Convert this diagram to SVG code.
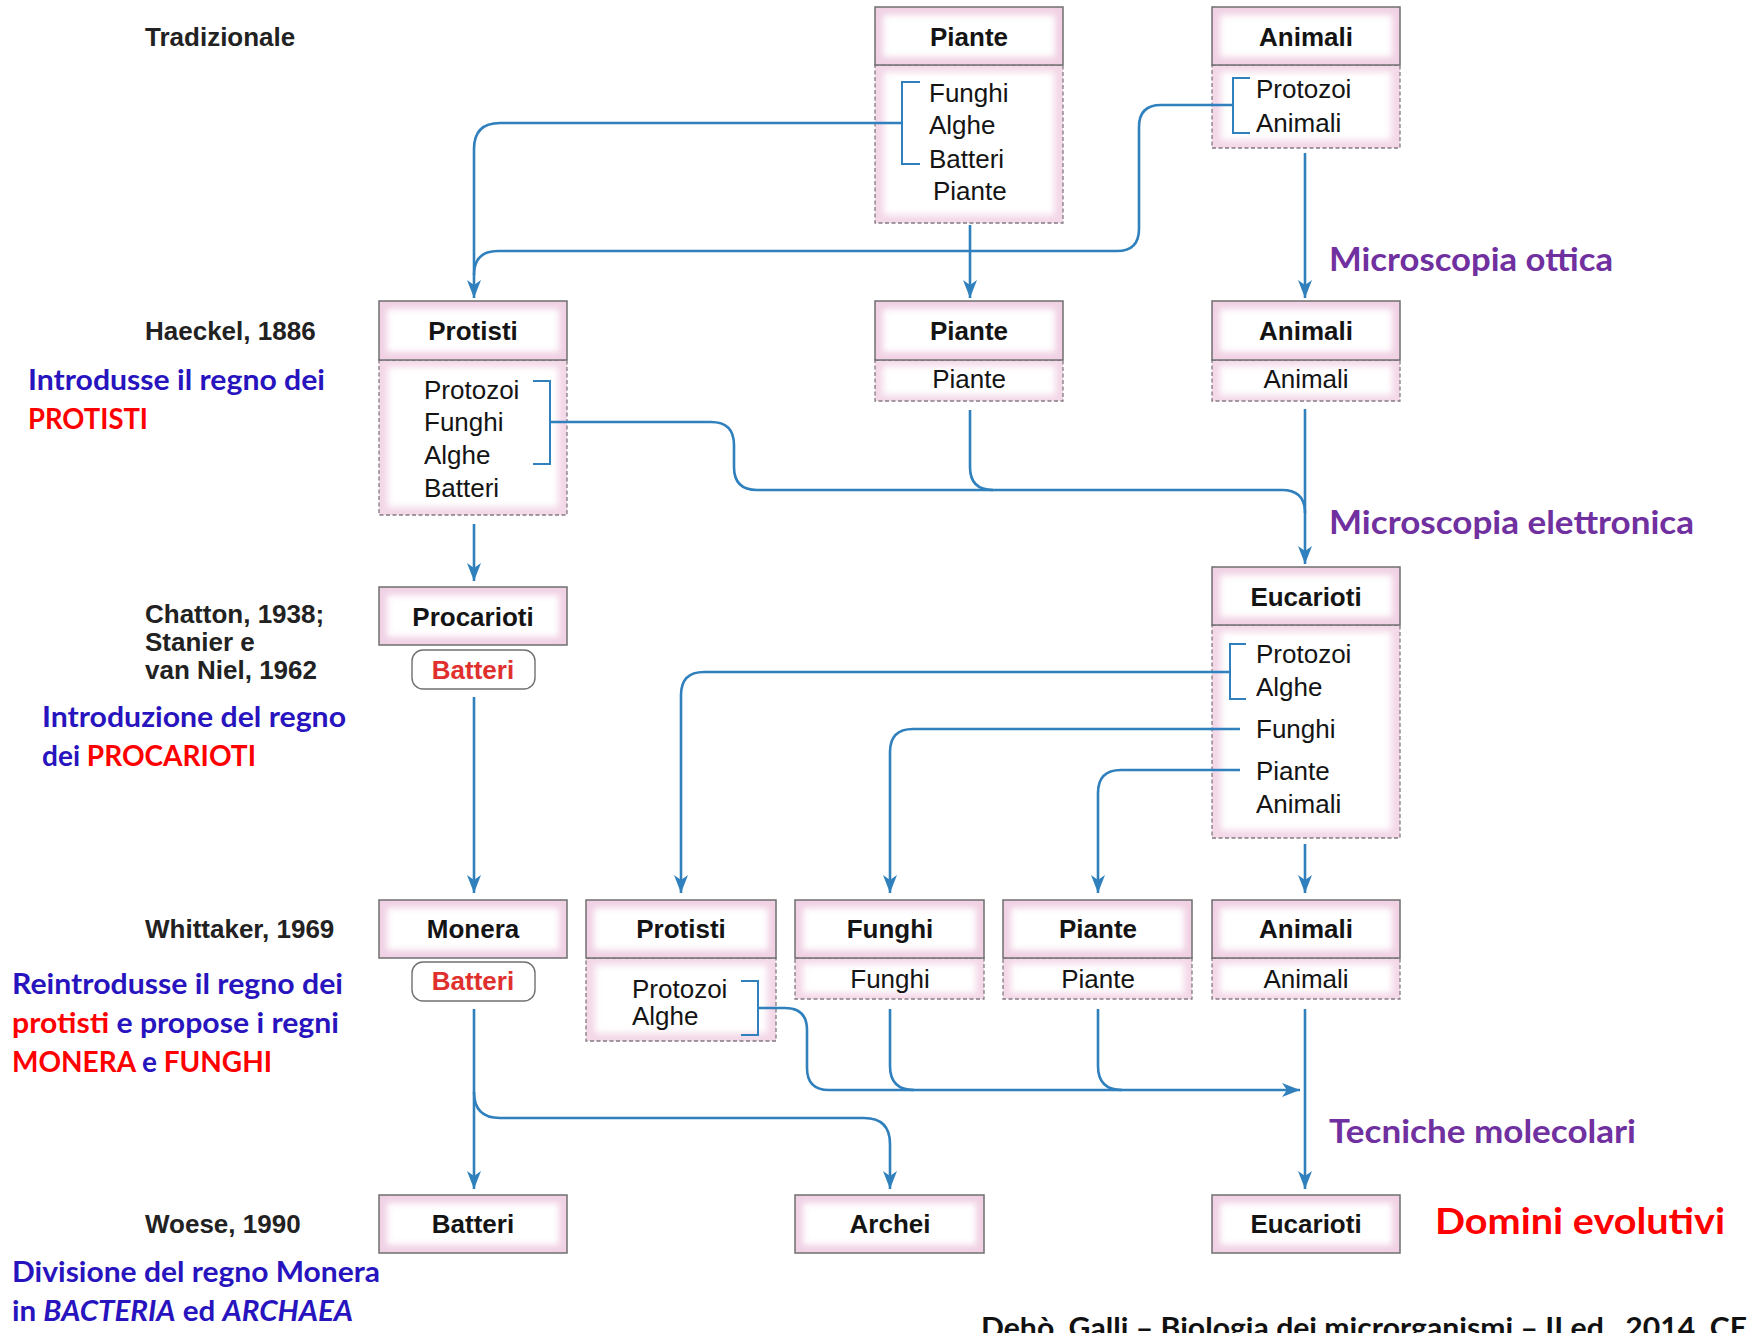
<svg xmlns="http://www.w3.org/2000/svg" width="1748" height="1333" viewBox="0 0 1748 1333">
<style>
.hdr{fill:#f0d1e4;stroke:#6f6f6f;stroke-width:1.5}
.bdy{fill:#f3d8e8;stroke:#857a82;stroke-width:1.3;stroke-dasharray:4 2.5}
.in{fill:#fff;filter:url(#soft)}
.pill{fill:#fff;stroke:#707070;stroke-width:1.4}
.h{font-family:"Liberation Sans",Arial,sans-serif;font-weight:bold;font-size:26px;text-anchor:middle;fill:#141414}
.t{font-family:"Liberation Sans",Arial,sans-serif;font-size:26px;fill:#141414}
.tc{font-family:"Liberation Sans",Arial,sans-serif;font-size:26px;fill:#141414;text-anchor:middle}
.rb{font-family:"Liberation Sans",Arial,sans-serif;font-weight:bold;font-size:26px;text-anchor:middle;fill:#e0302e}
.lbl{font-family:"Liberation Sans",Arial,sans-serif;font-weight:bold;font-size:26px;fill:#222}
.bl{font-family:Lato,"Open Sans",sans-serif;font-weight:bold;font-size:29px;fill:#2814be}
.red{fill:#ff0000}
.it{font-style:italic}
.pu{font-family:Lato,"Open Sans",sans-serif;font-weight:bold;font-size:32px;fill:#7030a0}
.dom{font-family:Lato,"Open Sans",sans-serif;font-weight:bold;font-size:37px;fill:#ff0000}
.cit{font-family:Lato,"Open Sans",sans-serif;font-weight:bold;font-size:29px;fill:#111}
.conn{fill:none;stroke:#2f80bd;stroke-width:2.6}
.br{fill:none;stroke:#2f80bd;stroke-width:2}
</style>
<defs>
<filter id="soft" x="-10%" y="-30%" width="120%" height="160%"><feGaussianBlur stdDeviation="3"/></filter>
<marker id="ah" markerUnits="userSpaceOnUse" markerWidth="20" markerHeight="16" refX="18" refY="7" orient="auto">
<path d="M0,0 L18,7 L0,14 L5,7 z" fill="#2f80bd"/>
</marker>
</defs>
<rect width="1748" height="1333" fill="#fff"/>

<!-- left labels -->
<g id="labels">
<text class="lbl" x="145" y="46">Tradizionale</text>
<text class="lbl" x="145" y="340">Haeckel, 1886</text>
<text class="lbl" x="145" y="623">Chatton, 1938;</text>
<text class="lbl" x="145" y="651">Stanier e</text>
<text class="lbl" x="145" y="679">van Niel, 1962</text>
<text class="lbl" x="145" y="938">Whittaker, 1969</text>
<text class="lbl" x="145" y="1233">Woese, 1990</text>
</g>

<g id="notes">
<text class="bl" x="28" y="390" textLength="297" lengthAdjust="spacingAndGlyphs">Introdusse il regno dei</text>
<text class="bl red" x="28" y="429" textLength="120" lengthAdjust="spacingAndGlyphs">PROTISTI</text>
<text class="bl" x="42" y="727" textLength="304" lengthAdjust="spacingAndGlyphs">Introduzione del regno</text>
<text class="bl" x="42" y="766" textLength="214" lengthAdjust="spacingAndGlyphs">dei <tspan class="red">PROCARIOTI</tspan></text>
<text class="bl" x="12" y="994" textLength="331" lengthAdjust="spacingAndGlyphs">Reintrodusse il regno dei</text>
<text class="bl" x="12" y="1033" textLength="327" lengthAdjust="spacingAndGlyphs"><tspan class="red">protisti</tspan> e propose i regni</text>
<text class="bl" x="12" y="1072" textLength="260" lengthAdjust="spacingAndGlyphs"><tspan class="red">MONERA</tspan> e <tspan class="red">FUNGHI</tspan></text>
<text class="bl" x="12" y="1282" textLength="368" lengthAdjust="spacingAndGlyphs">Divisione del regno Monera</text>
<text class="bl" x="12" y="1321" textLength="341" lengthAdjust="spacingAndGlyphs">in <tspan class="it">BACTERIA</tspan> ed <tspan class="it">ARCHAEA</tspan></text>
<text class="pu" x="1329" y="271" textLength="284" lengthAdjust="spacingAndGlyphs">Microscopia ottica</text>
<text class="pu" x="1329" y="534" textLength="365" lengthAdjust="spacingAndGlyphs">Microscopia elettronica</text>
<text class="pu" x="1329" y="1143" textLength="307" lengthAdjust="spacingAndGlyphs">Tecniche molecolari</text>
<text class="dom" x="1435" y="1234" textLength="290" lengthAdjust="spacingAndGlyphs">Domini evolutivi</text>
<text class="cit" x="981" y="1338" textLength="787" lengthAdjust="spacingAndGlyphs">Dehò, Galli – Biologia dei microrganismi – II ed., 2014, CEA</text>
</g>

<!-- Tradizionale row -->
<g id="trad-piante">
<rect class="bdy" x="875" y="65" width="188" height="158"/>
<rect class="in" x="884" y="72" width="170" height="143"/>
<rect class="hdr" x="875" y="7" width="188" height="58"/>
<rect class="in" x="883" y="15" width="172" height="42"/>
<text class="h" x="969" y="46">Piante</text>
<text class="t" x="929" y="102">Funghi</text>
<text class="t" x="929" y="134">Alghe</text>
<text class="t" x="929" y="168">Batteri</text>
<text class="t" x="933" y="200">Piante</text>
<path class="br" d="M920,82 H902 V164 H920"/>
</g>
<g id="trad-animali">
<rect class="bdy" x="1212" y="65" width="188" height="83"/>
<rect class="in" x="1221" y="72" width="170" height="68"/>
<rect class="hdr" x="1212" y="7" width="188" height="58"/>
<rect class="in" x="1220" y="15" width="172" height="42"/>
<text class="h" x="1306" y="46">Animali</text>
<text class="t" x="1256" y="98">Protozoi</text>
<text class="t" x="1256" y="132">Animali</text>
<path class="br" d="M1250,78 H1233 V133 H1250"/>
</g>

<!-- Haeckel row -->
<g id="haeckel-protisti">
<rect class="bdy" x="379" y="360" width="188" height="155"/>
<rect class="in" x="388" y="367" width="170" height="140"/>
<rect class="hdr" x="379" y="301" width="188" height="59"/>
<rect class="in" x="387" y="309" width="172" height="43"/>
<text class="h" x="473" y="340">Protisti</text>
<text class="t" x="424" y="399">Protozoi</text>
<text class="t" x="424" y="431">Funghi</text>
<text class="t" x="424" y="464">Alghe</text>
<text class="t" x="424" y="497">Batteri</text>
<path class="br" d="M533,381 H550 V464 H533"/>
</g>
<g id="haeckel-piante">
<rect class="bdy" x="875" y="360" width="188" height="41"/>
<rect class="in" x="883" y="366" width="172" height="29"/>
<rect class="hdr" x="875" y="301" width="188" height="59"/>
<rect class="in" x="883" y="309" width="172" height="43"/>
<text class="h" x="969" y="340">Piante</text>
<text class="tc" x="969" y="388">Piante</text>
</g>
<g id="haeckel-animali">
<rect class="bdy" x="1212" y="360" width="188" height="41"/>
<rect class="in" x="1220" y="366" width="172" height="29"/>
<rect class="hdr" x="1212" y="301" width="188" height="59"/>
<rect class="in" x="1220" y="309" width="172" height="43"/>
<text class="h" x="1306" y="340">Animali</text>
<text class="tc" x="1306" y="388">Animali</text>
</g>

<!-- Chatton row -->
<g id="procarioti">
<rect class="hdr" x="379" y="587" width="188" height="58"/>
<rect class="in" x="387" y="595" width="172" height="42"/>
<text class="h" x="473" y="626">Procarioti</text>
<rect class="pill" x="412" y="650" width="123" height="39" rx="11"/>
<text class="rb" x="473" y="679">Batteri</text>
</g>
<g id="eucarioti-mid">
<rect class="bdy" x="1212" y="625" width="188" height="213"/>
<rect class="in" x="1221" y="632" width="170" height="198"/>
<rect class="hdr" x="1212" y="567" width="188" height="58"/>
<rect class="in" x="1220" y="575" width="172" height="42"/>
<text class="h" x="1306" y="606">Eucarioti</text>
<text class="t" x="1256" y="663">Protozoi</text>
<text class="t" x="1256" y="696">Alghe</text>
<text class="t" x="1256" y="738">Funghi</text>
<text class="t" x="1256" y="780">Piante</text>
<text class="t" x="1256" y="813">Animali</text>
<path class="br" d="M1246,644 H1230 V699 H1246"/>
</g>

<!-- Whittaker row -->
<g id="monera">
<rect class="hdr" x="379" y="900" width="188" height="58"/>
<rect class="in" x="387" y="908" width="172" height="42"/>
<text class="h" x="473" y="938">Monera</text>
<rect class="pill" x="412" y="962" width="123" height="39" rx="11"/>
<text class="rb" x="473" y="990">Batteri</text>
</g>
<g id="whit-protisti">
<rect class="bdy" x="586" y="958" width="190" height="83"/>
<rect class="in" x="595" y="965" width="172" height="68"/>
<rect class="hdr" x="586" y="900" width="190" height="58"/>
<rect class="in" x="594" y="908" width="174" height="42"/>
<text class="h" x="681" y="938">Protisti</text>
<text class="t" x="632" y="998">Protozoi</text>
<text class="t" x="632" y="1025">Alghe</text>
<path class="br" d="M741,981 H758 V1035 H741"/>
</g>
<g id="whit-funghi">
<rect class="bdy" x="795" y="958" width="189" height="41"/>
<rect class="in" x="803" y="964" width="173" height="29"/>
<rect class="hdr" x="795" y="900" width="189" height="58"/>
<rect class="in" x="803" y="908" width="173" height="42"/>
<text class="h" x="890" y="938">Funghi</text>
<text class="tc" x="890" y="988">Funghi</text>
</g>
<g id="whit-piante">
<rect class="bdy" x="1003" y="958" width="189" height="41"/>
<rect class="in" x="1011" y="964" width="173" height="29"/>
<rect class="hdr" x="1003" y="900" width="189" height="58"/>
<rect class="in" x="1011" y="908" width="173" height="42"/>
<text class="h" x="1098" y="938">Piante</text>
<text class="tc" x="1098" y="988">Piante</text>
</g>
<g id="whit-animali">
<rect class="bdy" x="1212" y="958" width="188" height="41"/>
<rect class="in" x="1220" y="964" width="172" height="29"/>
<rect class="hdr" x="1212" y="900" width="188" height="58"/>
<rect class="in" x="1220" y="908" width="172" height="42"/>
<text class="h" x="1306" y="938">Animali</text>
<text class="tc" x="1306" y="988">Animali</text>
</g>

<!-- Woese row -->
<g id="woese-batteri">
<rect class="hdr" x="379" y="1195" width="188" height="58"/>
<rect class="in" x="387" y="1203" width="172" height="42"/>
<text class="h" x="473" y="1233">Batteri</text>
</g>
<g id="woese-archei">
<rect class="hdr" x="795" y="1195" width="189" height="58"/>
<rect class="in" x="803" y="1203" width="173" height="42"/>
<text class="h" x="890" y="1233">Archei</text>
</g>
<g id="woese-eucarioti">
<rect class="hdr" x="1212" y="1195" width="188" height="58"/>
<rect class="in" x="1220" y="1203" width="172" height="42"/>
<text class="h" x="1306" y="1233">Eucarioti</text>
</g>

<!-- connectors -->
<g id="connectors">
<path class="conn" d="M902,123 H500 Q474,123 474,149 V298" marker-end="url(#ah)"/>
<path class="conn" d="M1233,105 H1161 Q1139,105 1139,127 V229 Q1139,251 1117,251 H498 Q474,251 474,275"/>
<path class="conn" d="M970,225 V298" marker-end="url(#ah)"/>
<path class="conn" d="M1305,153 V298" marker-end="url(#ah)"/>

<path class="conn" d="M550,422 H711 Q734,422 734,445 V467 Q734,490 757,490 H1282 Q1305,490 1305,513"/>
<path class="conn" d="M970,410 V467 Q970,490 993,490"/>
<path class="conn" d="M1305,409 V564" marker-end="url(#ah)"/>
<path class="conn" d="M474,524 V581" marker-end="url(#ah)"/>

<path class="conn" d="M474,697 V893" marker-end="url(#ah)"/>
<path class="conn" d="M1230,672 H704 Q681,672 681,695 V893" marker-end="url(#ah)"/>
<path class="conn" d="M1240,729 H913 Q890,729 890,752 V893" marker-end="url(#ah)"/>
<path class="conn" d="M1240,770 H1121 Q1098,770 1098,793 V893" marker-end="url(#ah)"/>
<path class="conn" d="M1305,844 V893" marker-end="url(#ah)"/>

<path class="conn" d="M758,1008 H785 Q807,1008 807,1030 V1068 Q807,1090 829,1090 H1300" marker-end="url(#ah)"/>
<path class="conn" d="M890,1009 V1066 Q890,1090 914,1090"/>
<path class="conn" d="M1098,1009 V1066 Q1098,1090 1122,1090"/>
<path class="conn" d="M1305,1009 V1189" marker-end="url(#ah)"/>
<path class="conn" d="M474,1009 V1189" marker-end="url(#ah)"/>
<path class="conn" d="M474,1092 Q474,1118 500,1118 H864 Q890,1118 890,1144 V1189" marker-end="url(#ah)"/>
</g>
</svg>
